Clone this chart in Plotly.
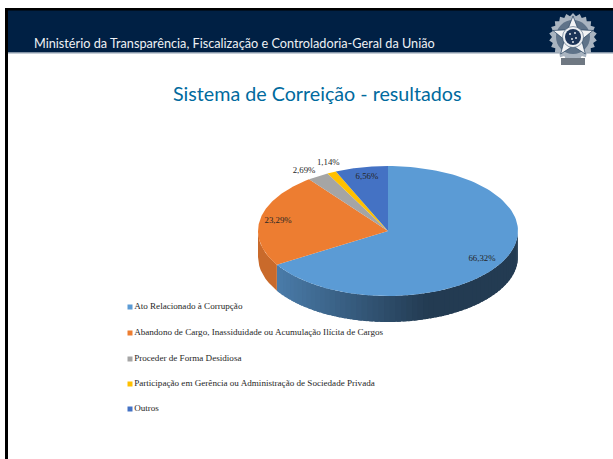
import math
import plotly.graph_objects as go

categories = ["Ato Relacionado à Corrupção",
              "Abandono de Cargo, Inassiduidade ou Acumulação Ilícita de Cargos",
              "Proceder de Forma Desidiosa",
              "Participação em Gerência ou Administração de Sociedade Privada",
              "Outros"]
values = [66.32, 23.29, 2.69, 1.14, 6.56]
value_labels = ["66,32%", "23,29%", "2,69%", "1,14%", "6,56%"]
colors = ["#5B9BD5", "#ED7D31", "#A5A5A5", "#FFC000", "#4472C4"]
label_radius_x = [0.83, 0.86, 1.20, 1.06, 0.79]
label_radius_y = [0.88, 0.83, 1.10, 1.16, 0.85]
legend_rows_px = [307, 333, 359, 384, 409]

W, H = 613, 459
CX, CY, RX, RY, DEPTH = 388, 231, 130, 65, 26
SERIF = "Liberation Serif"


def px(a):
    return math.sin(a), math.cos(a)


def arc(a0, a1, n=60):
    return [a0 + (a1 - a0) * i / n for i in range(n + 1)]


def mix(c0, c1, t):
    return "rgb(%d,%d,%d)" % tuple(round(c0[i] + (c1[i] - c0[i]) * t) for i in range(3))


fig = go.Figure()
d = DEPTH / RY
total = sum(values)
edges = [0.0]
for v in values:
    edges.append(edges[-1] + v / total * 2 * math.pi)

# side wall, only the part facing the viewer
front_start, front_end = math.pi / 2, 3 * math.pi / 2
wall_parts = []
N = 60
a_start = front_start
a_stop = edges[1]
x_dark, x_light = (430 - CX) / RX, (278 - CX) / RX
for i in range(N):
    a0 = a_start + (a_stop - a_start) * i / N
    a1 = a_start + (a_stop - a_start) * (i + 1) / N
    t = min(1, max(0, (x_dark - math.sin(a0)) / (x_dark - x_light)))
    wall_parts.append((a0, a1 + 0.03 if i < N - 1 else a1, mix((35, 59, 82), (74, 124, 170), t)))
wall_parts.append((edges[1], front_end, "#C96A2B"))
for a0, a1, col in wall_parts:
    top = [px(a) for a in arc(a0, a1, 8)]
    xs = [p[0] for p in top] + [p[0] for p in reversed(top)]
    ys = [p[1] for p in top] + [p[1] - d for p in reversed(top)]
    fig.add_trace(go.Scatter(x=xs, y=ys, mode="lines", fill="toself", fillcolor=col,
                             line=dict(width=0), hoverinfo="skip", showlegend=False))

# top face, one wedge for each value
for i, c in enumerate(categories):
    pts = [px(a) for a in arc(edges[i], edges[i + 1], 120)]
    xs = [0] + [p[0] for p in pts] + [0]
    ys = [0] + [p[1] for p in pts] + [0]
    fig.add_trace(go.Scatter(x=xs, y=ys, mode="lines", fill="toself", fillcolor=colors[i],
                             line=dict(width=0), name=c, text=value_labels[i], hoverinfo="name+text",
                             showlegend=False))

# data labels
lx, ly = [], []
for i in range(len(values)):
    a = (edges[i] + edges[i + 1]) / 2
    sx, cy = px(a)
    lx.append(sx * label_radius_x[i])
    ly.append(cy * label_radius_y[i])
fig.add_trace(go.Scatter(x=lx, y=ly, mode="text", text=value_labels, textposition="middle center",
                         textfont=dict(family=SERIF, size=8.8, color="#262626"),
                         hoverinfo="skip", showlegend=False))

# legend: square key and label in a column under the pie
key_x = (130 - CX) / RX
for i, c in enumerate(categories):
    fig.add_trace(go.Scatter(x=[key_x], y=[(CY - legend_rows_px[i]) / RY], mode="markers+text",
                             name=c, text=[c], textposition="middle right",
                             textfont=dict(family=SERIF, size=9.1, color="#262626"),
                             marker=dict(symbol="square", size=5, color=colors[i]),
                             hoverinfo="name", showlegend=False))


def P(x0, y0, x1, y1, **kw):
    return dict(type="rect", xref="paper", yref="paper", x0=x0 / W, x1=x1 / W,
                y0=1 - y0 / H, y1=1 - y1 / H, layer="below", **kw)


NAVY = "#002044"
shapes = [
    P(5, 8, 613, 52.5, fillcolor=NAVY, line_width=0),
    P(5, 8, 613, 10.5, fillcolor="#000000", line_width=0),
    P(7, 52.5, 613, 53.5, fillcolor="#8C9BAE", line_width=0),
    P(5, 8, 8, 459, fillcolor="#000000", line_width=0),
]


def pa(x, y):
    return x / W, 1 - y / H


def poly(cx, cy, radii, n):
    out = []
    for k in range(n):
        a = 2 * math.pi * k / n
        r = radii[k % len(radii)]
        x, y = pa(cx + r * math.sin(a), cy - r * math.cos(a))
        out.append(f"{'M' if k == 0 else 'L'}{x:.5f},{y:.5f}")
    return " ".join(out) + " Z"


def disc(cx, cy, r, fill, line=None):
    x0, y0 = pa(cx - r, cy - r)
    x1, y1 = pa(cx + r, cy + r)
    return dict(type="circle", xref="paper", yref="paper", x0=x0, x1=x1, y0=y0, y1=y1,
                fillcolor=fill, line=dict(width=0.5 if line else 0, color=line or fill))


# emblem, drawn roughly
ex, ey = 573, 37
shapes.append(dict(type="path", xref="paper", yref="paper", path=poly(ex, ey, [24, 21], 44),
                   fillcolor="#A9B4C0", line=dict(width=0)))
shapes.append(disc(ex, ey, 17, "#5F7389"))
shapes.append(dict(type="path", xref="paper", yref="paper", path=poly(ex, ey, [21, 9], 10),
                   fillcolor="#F2F3F5", line=dict(width=0.7, color="#25405F")))
shapes.append(disc(ex, ey, 10.5, "#EDEFF2", "#25405F"))
shapes.append(disc(ex, ey, 8, "#1C3458"))
for sx, sy in [(-3, -3), (2, -4), (3, 1), (-1, 2), (0, 5)]:
    shapes.append(disc(ex + sx, ey + sy, 0.9, "#F2F3F5"))
x0, y0 = pa(ex - 12, ey + 21)
x1, y1 = pa(ex + 12, ey + 28)
shapes.append(dict(type="rect", xref="paper", yref="paper", x0=x0, x1=x1, y0=y0, y1=y1,
                   fillcolor="#6F7882", line=dict(width=0)))

fig.update_layout(
    width=W, height=H, margin=dict(l=0, r=0, t=0, b=0),
    paper_bgcolor="white", plot_bgcolor="rgba(0,0,0,0)",
    xaxis=dict(visible=False, range=[-CX / RX, (W - CX) / RX], fixedrange=True),
    yaxis=dict(visible=False, range=[(CY - H) / RY, CY / RY], fixedrange=True),
    shapes=shapes,
    showlegend=False,
    annotations=[
        dict(text="Ministério da Transparência, Fiscalização e Controladoria-Geral da União",
             xref="paper", yref="paper", x=32 / W, y=1 - 43 / H, xanchor="left", yanchor="middle",
             showarrow=False, font=dict(family="Lato", size=12.7, color="#EEF1F4")),
        dict(text="Sistema de Correição - resultados",
             xref="paper", yref="paper", x=317 / W, y=1 - 94 / H, xanchor="center", yanchor="middle",
             showarrow=False, font=dict(family="Lato", size=19.7, color="#006A9E")),
    ],
)
fig.write_html("out.html", config={"displayModeBar": False},
               post_script="document.body.style.margin='0';document.body.style.overflow='hidden';")
